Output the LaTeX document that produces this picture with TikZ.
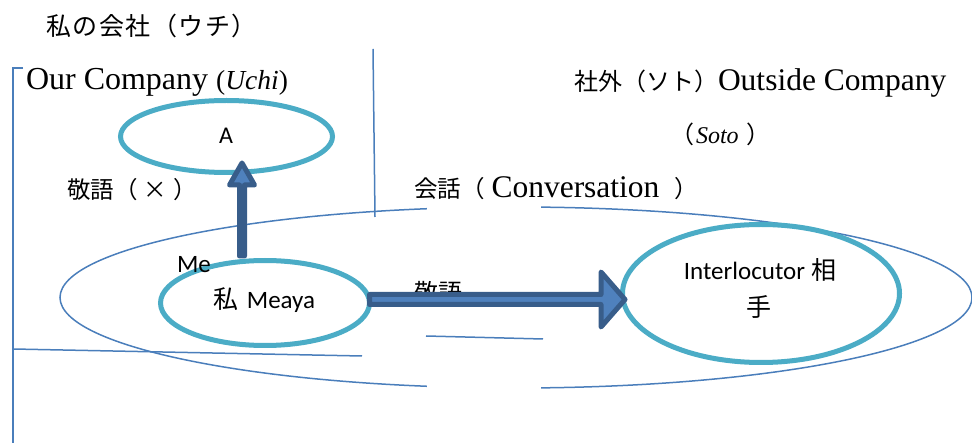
\documentclass[tikz,border=0pt]{standalone}
\usepackage{fontspec}
\setmainfont{Liberation Serif}
\newfontfamily\jpf{Noto Sans CJK JP}
\newfontfamily\jpfs[LetterSpace=6]{Noto Sans CJK JP}
\newfontfamily\calf{Carlito}
\usetikzlibrary{shapes.geometric,calc}
\definecolor{thinblue}{HTML}{4A7EBB}
\definecolor{cyanring}{HTML}{4BACC6}
\definecolor{arrowedge}{HTML}{385D8A}
\definecolor{arrowfill}{HTML}{4F81BD}
\begin{document}
\begin{tikzpicture}[x=1pt,y=-1pt,
  thinline/.style={draw=thinblue,line width=1.5pt},
  ring/.style={ellipse,draw=cyanring,line width=5pt,fill=white,inner sep=0pt,outer sep=0pt},
  blockarrow/.style={draw=arrowedge,fill=arrowfill,line join=round},
  txt/.style={inner sep=0pt,outer sep=0pt,anchor=base west},
  ctxt/.style={inner sep=0pt,outer sep=0pt,anchor=base},
]
\useasboundingbox (0,0) rectangle (972,443);

% large conversation ellipse
\node[ellipse,thinline,inner sep=0pt,outer sep=0pt,minimum width=912pt,minimum height=181pt] (conv) at (516,297.5) {};
\fill[white] (427,199) rectangle (541,215);
\fill[white] (427,380) rectangle (541,396);

% thin lines
\draw[thinline] (23,68) -- (13,68) -- (13,445);
\draw[thinline] (373,49) -- (375,217);
\draw[thinline] (13,349) -- (362,356);
\draw[thinline] (426,336) -- (543,339);

% rings
\node[ring,minimum width=212pt,minimum height=72pt] (A) at (226.5,136.5) {};
\node[ring,minimum width=209pt,minimum height=85pt] (me) at (265,303) {};
\node[ring,minimum width=277pt,minimum height=138pt] (inter) at (761,293.5) {};

% texts
\node[txt] (uchijp) at (46,36) {\jpfs\fontsize{25}{30}\selectfont 私の会社（ウチ）};
\node[txt] (ourco) at (26,90) {\fontsize{32}{36}\selectfont Our Company {\fontsize{27.5}{30}\selectfont(\textit{Uchi})}};
\node[txt] (outside) at (574,91) {{\jpf\fontsize{24}{28}\selectfont 社外（ソト）}\fontsize{31.5}{36}\selectfont Outside Company};
\node[txt] (soto) at (670,144) {{\jpf\fontsize{24}{28}\selectfont （}\hspace{2pt}{\fontsize{24}{28}\selectfont\textit{Soto}}\hspace{8pt}{\jpf\fontsize{24}{28}\selectfont ）}};
\node[txt] (keigono) at (67,198.5) {\jpf\fontsize{23.5}{28}\selectfont 敬語（\hspace{6pt}×\hspace{7pt}）};
\node[txt] (convtxt) at (414,198) {{\jpf\fontsize{23.5}{28}\selectfont 会話（}\hspace{7pt}{\fontsize{31.5}{36}\selectfont Conversation}\hspace{15pt}{\jpf\fontsize{23.5}{28}\selectfont ）}};
\node[txt] (keigo) at (414,302) {\jpf\fontsize{24}{28}\selectfont 敬語};

\node[ctxt] (atxt) at (226,144) {\calf\fontsize{24}{28}\selectfont A};
\node[txt] (metxt) at (177,273) {\calf\fontsize{25}{30}\selectfont Me};
\node[ctxt] (meaya) at (264.5,308.5) {\calf\fontsize{25}{30}\selectfont{\jpf 私}\hspace{8pt}Meaya};
\node[ctxt] (inter1) at (760,280) {\calf\fontsize{25}{30}\selectfont Interlocutor\hspace{6pt}{\jpf 相}};
\node[ctxt] (inter2) at (759,317) {\jpf\fontsize{25}{30}\selectfont 手};

% block arrows
\draw[blockarrow,line width=5pt] let \p1=($(me.north)+(-23,-4.5)$), \p2=($(A.south)+(15.5,-9.5)$) in
  (\x1-2.5pt,\y1) -- (\x1-2.5pt,\y2-22pt) -- (\x1-12.5pt,\y2-22pt) -- (\x1,\y2) -- (\x1+12.5pt,\y2-22pt) -- (\x1+2.5pt,\y2-22pt) -- (\x1+2.5pt,\y1) -- cycle;
\draw[blockarrow,line width=5pt] let \p1=($(me.east)+(0,-3.5)$), \p2=($(inter.west)+(2.5,6)$) in
  (\x1,\y1+5pt) -- (\x2-24pt,\y1+5pt) -- (\x2-24pt,\y1+27.5pt) -- (\x2,\y1) -- (\x2-24pt,\y1-27.5pt) -- (\x2-24pt,\y1-5pt) -- (\x1,\y1-5pt) -- cycle;
\end{tikzpicture}
\end{document}
